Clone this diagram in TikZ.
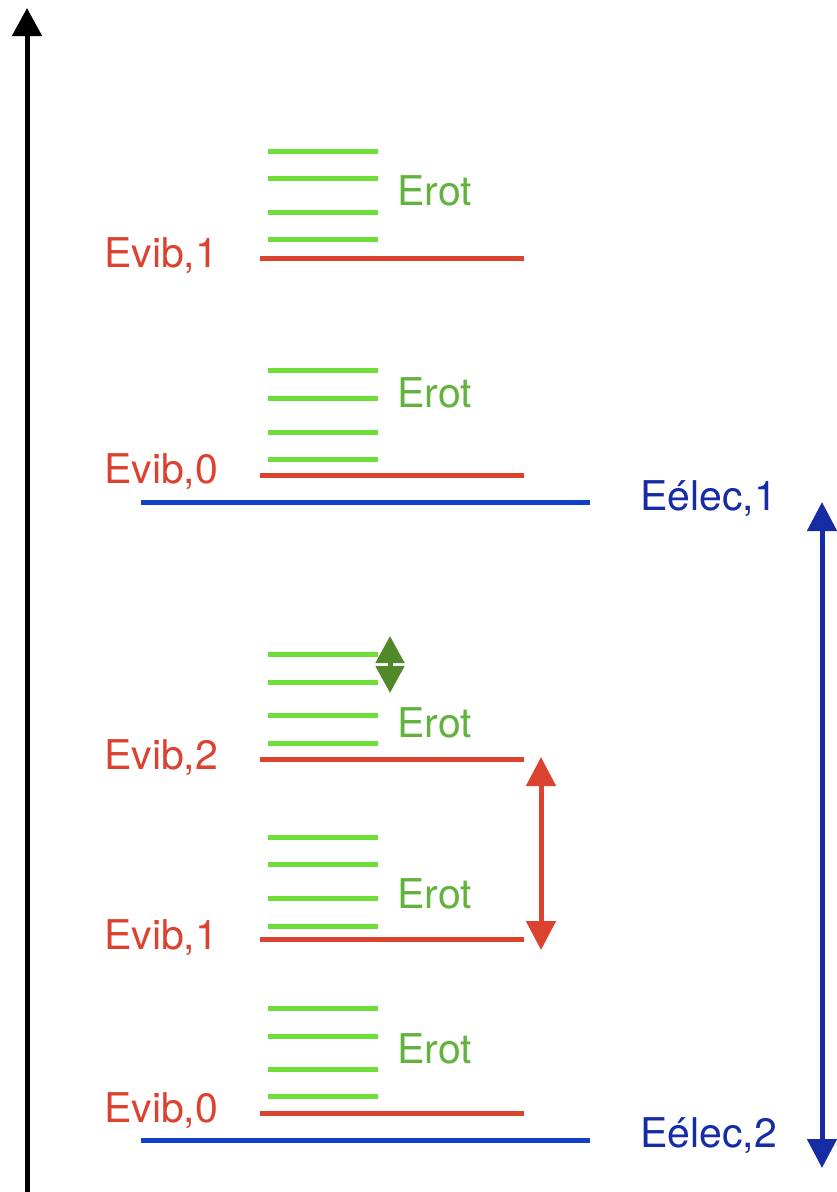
\documentclass[tikz,border=0pt]{standalone}
\usepackage{fontspec}
\setmainfont{TeX Gyre Heros}
\usetikzlibrary{arrows.meta}
\definecolor{vibrot}{RGB}{220,66,48}
\definecolor{rotgruen}{RGB}{110,222,58}
\definecolor{rottext}{RGB}{98,178,62}
\definecolor{rotpfeil}{RGB}{80,138,40}
\definecolor{elecblau}{RGB}{16,64,200}
\definecolor{electext}{RGB}{22,44,165}
\begin{document}
\begin{tikzpicture}[x=1pt, y=-1pt,
    vib/.style={draw=vibrot, line width=5pt},
    rot/.style={draw=rotgruen, line width=5pt},
    elec/.style={draw=elecblau, line width=5pt},
    lbl/.style={anchor=base west, inner sep=0pt, font=\fontsize{41}{49}\selectfont},
    spitze/.style={line width=5pt, -{Triangle[length=28pt,width=29pt]}},
    doppel/.style={line width=5pt, {Triangle[length=29pt,width=29pt]}-{Triangle[length=29pt,width=29pt]}}
]
\useasboundingbox (0,0) rectangle (837,1192);

% --- Energieachse ---
\coordinate (a0) at (27,1192);
\coordinate (a1) at (27,8);
\draw[spitze] (a0) -- (a1);

% --- oberer elektronischer Zustand ---
\draw[rot] (268,151) -- (378,151) (268,178) -- (378,178)
           (268,212) -- (378,212) (268,239) -- (378,239);
\node[lbl, text=rottext] (r4) at (397,205) {Erot};
\draw[vib] (260,258) -- (524,258);
\node[lbl, text=vibrot] (v4) at (104,267) {Evib,1};

\draw[rot] (268,370) -- (378,370) (268,398) -- (378,398)
           (268,432) -- (378,432) (268,459) -- (378,459);
\node[lbl, text=rottext] (r3) at (397,407) {Erot};
\draw[vib] (260,475) -- (524,475);
\node[lbl, text=vibrot] (v3) at (104,483) {Evib,0};

\draw[elec] (141,502) -- (590,502);
\node[lbl, text=electext] (e1) at (640,510) {Eélec,1};

% --- unterer elektronischer Zustand ---
\draw[rot] (268,654) -- (378,654) (268,682) -- (378,682)
           (268,715) -- (378,715) (268,743) -- (378,743);
\node[lbl, text=rottext] (r2) at (397,737) {Erot};
\draw[vib] (260,759) -- (524,759);
\node[lbl, text=vibrot] (v2) at (104,769) {Evib,2};

\draw[rot] (268,837) -- (378,837) (268,864) -- (378,864)
           (268,898) -- (378,898) (268,926) -- (378,926);
\node[lbl, text=rottext] (r1) at (397,908) {Erot};
\draw[vib] (260,939) -- (524,939);
\node[lbl, text=vibrot] (v1) at (104,949) {Evib,1};

\draw[rot] (268,1008) -- (378,1008) (268,1036) -- (378,1036)
           (268,1069) -- (378,1069) (268,1096) -- (378,1096);
\node[lbl, text=rottext] (r0) at (397,1063) {Erot};
\draw[vib] (260,1113) -- (524,1113);
\node[lbl, text=vibrot] (v0) at (104,1122) {Evib,0};

\draw[elec] (141,1140) -- (590,1140);
\node[lbl, text=electext] (e2) at (640,1147) {Eélec,2};

% --- Abstaende ---
\coordinate (g0) at (390,636);
\coordinate (g1) at (390,693);
\draw[doppel, rotpfeil, {Triangle[length=27pt,width=28pt]}-{Triangle[length=27pt,width=28pt]}] (g0) -- (g1); % Rotation

\coordinate (s0) at (541,757);
\coordinate (s1) at (541,950);
\draw[doppel, vibrot] (s0) -- (s1); % Vibration

\coordinate (b0) at (822,502);
\coordinate (b1) at (822,1168);
\draw[doppel, electext] (b0) -- (b1); % elektronisch

\end{tikzpicture}
\end{document}
